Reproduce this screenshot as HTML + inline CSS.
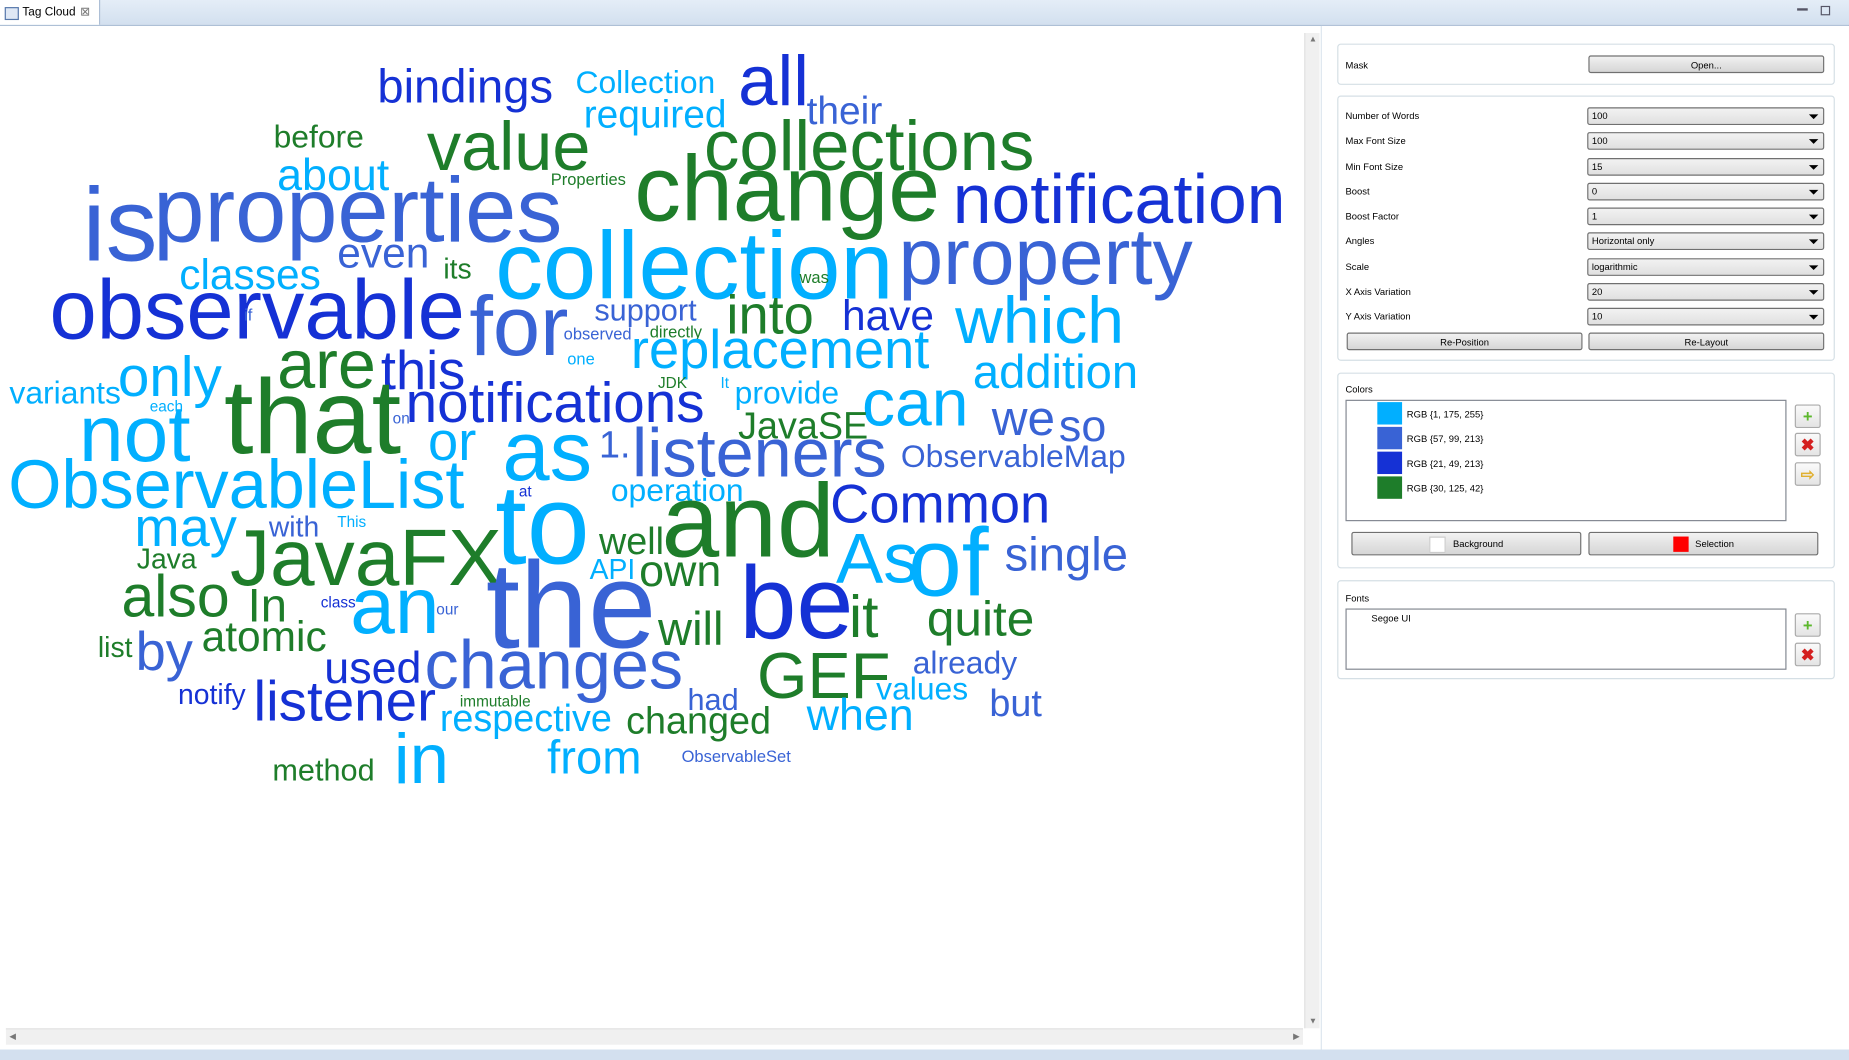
<!DOCTYPE html>
<html><head><meta charset="utf-8"><style>
html,body{margin:0;padding:0;width:1849px;height:1060px;overflow:hidden;background:#fff}
#stage{position:absolute;left:0;top:0;width:1568px;height:899px;transform:scale(1.17921);transform-origin:0 0;font-family:"Liberation Sans",sans-serif;background:#fff}
.abs{position:absolute}
.w{position:absolute;line-height:1;white-space:nowrap;font-family:"Liberation Sans",sans-serif}
.grp{position:absolute;border:1px solid #d5dfe5;border-radius:3px;background:#fff}
.lbl{position:absolute;font-size:8px;color:#000}
.btn{position:absolute;height:15px;border:1px solid #707070;border-radius:2px;background:linear-gradient(#f2f2f2,#e3e3e3 50%,#d6d6d6);font-size:8px;text-align:center;line-height:15px;box-sizing:border-box}
.cmb{position:absolute;left:1346px;width:201px;height:15px;border:1px solid #707070;border-radius:2px;background:linear-gradient(#f2f2f2,#e0e0e0);font-size:8px;line-height:13px;padding-left:3px;box-sizing:border-box}
.cmb:after{content:"";position:absolute;right:4px;top:5px;border-left:4px solid transparent;border-right:4px solid transparent;border-top:4px solid #000}
.sw{position:absolute;left:1168px;width:21px;height:19px}
.ib{position:absolute;left:1522px;width:22px;height:20px;border:1px solid #aaa;border-radius:2px;background:linear-gradient(#fafafa,#e4e4e4);box-sizing:border-box;text-align:center;font-size:14px;line-height:18px;font-weight:bold}
</style></head><body>
<div id="stage">
 <div class="abs" style="left:0;top:0;width:1568px;height:21px;background:linear-gradient(#e4edf7,#d3e0ef);border-bottom:1px solid #a9bcd4"></div>
 <div class="abs" style="left:0;top:0;width:84px;height:21px;background:#fff;border-right:1px solid #a9bcd4;font-size:10px;line-height:21px">
  <span class="abs" style="left:4px;top:6px;width:10px;height:9px;border:1px solid #5577aa;background:#dfe8f5"></span>
  <span class="abs" style="left:19px;top:0">Tag Cloud</span>
  <span class="abs" style="left:68px;top:0;color:#777">⊠</span>
 </div>
 <div class="abs" style="left:1524px;top:7px;width:9px;height:2px;background:#556"></div>
 <div class="abs" style="left:1544px;top:5px;width:6px;height:6px;border:1px solid #556"></div>

 <div class="abs" id="cloud" style="left:0;top:22px;width:1106px;height:850px;overflow:hidden"></div>
 <div class="abs" style="left:1106px;top:28px;width:12px;height:844px;background:#f0f0f0;border-left:1px solid #e2e2e2">
  <span class="abs" style="left:3px;top:2px;font-size:7px;color:#777">▲</span><span class="abs" style="left:3px;bottom:2px;font-size:7px;color:#777">▼</span></div>
 <div class="abs" style="left:5px;top:872px;width:1100px;height:13px;background:#f0f0f0;border-top:1px solid #e2e2e2">
  <span class="abs" style="left:3px;top:2px;font-size:7px;color:#777">◀</span><span class="abs" style="right:3px;top:2px;font-size:7px;color:#777">▶</span></div>
 <div class="abs" style="left:1120px;top:22px;width:446px;height:868px;background:#fff;border-left:1px solid #dde5ee"></div>
 <div class="abs" style="left:0;top:890px;width:1568px;height:9px;background:#d3e0ef"></div>

 <div class="grp" style="left:1134px;top:37px;width:420px;height:33px"></div>
 <div class="lbl" style="left:1141px;top:51px">Mask</div>
 <div class="btn" style="left:1347px;top:47px;width:200px">Open...</div>

 <div class="grp" style="left:1134px;top:81px;width:420px;height:223px"></div>
 <div class="lbl" style="left:1141px;top:94px">Number of Words</div>
 <div class="cmb" style="top:91px">100</div>
 <div class="lbl" style="left:1141px;top:115px">Max Font Size</div>
 <div class="cmb" style="top:112px">100</div>
 <div class="lbl" style="left:1141px;top:137px">Min Font Size</div>
 <div class="cmb" style="top:134px">15</div>
 <div class="lbl" style="left:1141px;top:158px">Boost</div>
 <div class="cmb" style="top:155px">0</div>
 <div class="lbl" style="left:1141px;top:179px">Boost Factor</div>
 <div class="cmb" style="top:176px">1</div>
 <div class="lbl" style="left:1141px;top:200px">Angles</div>
 <div class="cmb" style="top:197px">Horizontal only</div>
 <div class="lbl" style="left:1141px;top:222px">Scale</div>
 <div class="cmb" style="top:219px">logarithmic</div>
 <div class="lbl" style="left:1141px;top:243px">X Axis Variation</div>
 <div class="cmb" style="top:240px">20</div>
 <div class="lbl" style="left:1141px;top:264px">Y Axis Variation</div>
 <div class="cmb" style="top:261px">10</div>
 <div class="btn" style="left:1142px;top:282px;width:200px">Re-Position</div>
 <div class="btn" style="left:1347px;top:282px;width:200px">Re-Layout</div>

 <div class="grp" style="left:1134px;top:316px;width:420px;height:164px"></div>
 <div class="lbl" style="left:1141px;top:326px">Colors</div>
 <div class="abs" style="left:1141px;top:339px;width:372px;height:101px;border:1px solid #828790"></div>
 <div class="sw" style="top:341px;background:#01afff"></div>
 <div class="lbl" style="left:1193px;top:347px">RGB {1, 175, 255}</div>
 <div class="sw" style="top:362px;background:#3963d5"></div>
 <div class="lbl" style="left:1193px;top:368px">RGB {57, 99, 213}</div>
 <div class="sw" style="top:383px;background:#1531d5"></div>
 <div class="lbl" style="left:1193px;top:389px">RGB {21, 49, 213}</div>
 <div class="sw" style="top:404px;background:#1e7d2a"></div>
 <div class="lbl" style="left:1193px;top:410px">RGB {30, 125, 42}</div>
 <div class="ib" style="top:343px;color:#5cb82c">+</div>
 <div class="ib" style="top:367px;color:#d42020">✖</div>
 <div class="ib" style="top:392px;color:#e0b030">⇨</div>
 <div class="btn" style="left:1146px;top:451px;width:195px;height:20px;line-height:20px"><span style="display:inline-block;width:12px;height:12px;background:#fff;border:1px solid #ccc;vertical-align:middle;margin-right:6px"></span>Background</div>
 <div class="btn" style="left:1347px;top:451px;width:195px;height:20px;line-height:20px"><span style="display:inline-block;width:13px;height:13px;background:#f00;vertical-align:middle;margin-right:6px"></span>Selection</div>

 <div class="grp" style="left:1134px;top:492px;width:420px;height:82px"></div>
 <div class="lbl" style="left:1141px;top:503px">Fonts</div>
 <div class="abs" style="left:1141px;top:516px;width:372px;height:50px;border:1px solid #828790"></div>
 <div class="lbl" style="left:1163px;top:520px">Segoe UI</div>
 <div class="ib" style="top:520px;color:#5cb82c">+</div>
 <div class="ib" style="top:545px;color:#d42020">✖</div>
</div>
<script>
const palette=["#01afff","#3963d5","#1531d5","#1e7d2a"];
const words=[
["bindings",320,88,40,2],["Collection",488,80,27,0],["all",626,90,60,2],["their",684,105,33,1],
["required",495,108,33,0],["before",232,126,27,3],["value",362,145,58,3],["collections",597,145,60,3],
["about",235,162,38,0],["Properties",467,157,14,3],["change",538,187,79,3],["notification",808,190,59,2],
["is",70,222,88,1],["properties",130,205,78,1],["even",286,228,36,1],["its",376,237,24,3],
["classes",152,246,36,0],["collection",420,255,81,0],["was",678,240,14,3],["property",762,242,68,1],
["observable",42,288,72,2],["for",398,302,72,1],["support",504,272,26,1],["into",616,283,46,3],
["have",714,281,36,2],["which",810,292,56,0],["if",207,272,14,1],["observed",478,288,14,1],
["directly",551,286,14,3],["replacement",535,312,46,0],["are",235,330,58,3],["this",323,330,46,2],
["one",481,309,14,0],["only",100,338,48,0],["variants",8,343,27,0],["addition",825,330,40,0],
["JDK",558,329,13,3],["It",611,329,13,0],["provide",623,343,27,0],["that",190,385,90,3],
["notifications",344,360,48,2],["each",127,349,13,0],["can",731,362,56,0],["we",841,370,42,1],
["so",898,375,38,1],["JavaSE",626,372,32,3],["not",67,392,68,0],["on",333,359,13,1],
["or",363,390,46,0],["as",426,408,72,0],["1.",508,388,32,1],["listeners",536,405,58,1],
["ObservableMap",764,397,27,1],["ObservableList",7,432,58,0],["at",440,421,13,2],["operation",518,426,27,0],
["Common",704,443,46,2],["may",114,463,46,0],["with",228,456,24,1],["This",286,447,13,0],
["to",420,480,96,0],["and",561,473,88,3],["JavaFX",195,497,68,3],["well",508,470,32,3],
["Java",116,483,24,3],["As",709,495,60,0],["of",770,507,82,0],["single",852,485,40,1],
["API",500,492,24,0],["own",542,498,38,3],["also",103,523,50,3],["an",297,538,68,0],
["the",412,550,104,1],["be",627,542,87,2],["In",210,528,40,3],["class",272,515,13,2],
["our",370,521,13,1],["it",720,540,50,3],["quite",786,540,42,3],["will",558,548,40,3],
["atomic",171,553,36,3],["list",83,558,24,3],["by",115,568,46,1],["changes",360,585,58,1],
["GEF",642,593,55,3],["used",275,580,38,2],["already",774,572,27,1],["notify",151,598,24,2],
["listener",215,613,48,2],["values",743,594,27,0],["had",583,602,26,1],["but",839,607,32,1],
["immutable",390,599,13,3],["respective",373,620,32,0],["changed",531,622,32,3],["when",684,620,38,0],
["in",334,665,60,0],["from",464,657,40,0],["method",231,662,26,3],["ObservableSet",578,646,14,1]
];
const cloud=document.getElementById('cloud');
for(const w of words){
  const s=document.createElement('span');
  s.className='w';
  s.textContent=w[0];
  s.style.left=w[1]+'px';
  s.style.top=(w[2]-22-0.85*w[3])+'px';
  s.style.fontSize=w[3]+'px';
  s.style.color=palette[w[4]];
  
  
  cloud.appendChild(s);
}
</script>
</body></html>
